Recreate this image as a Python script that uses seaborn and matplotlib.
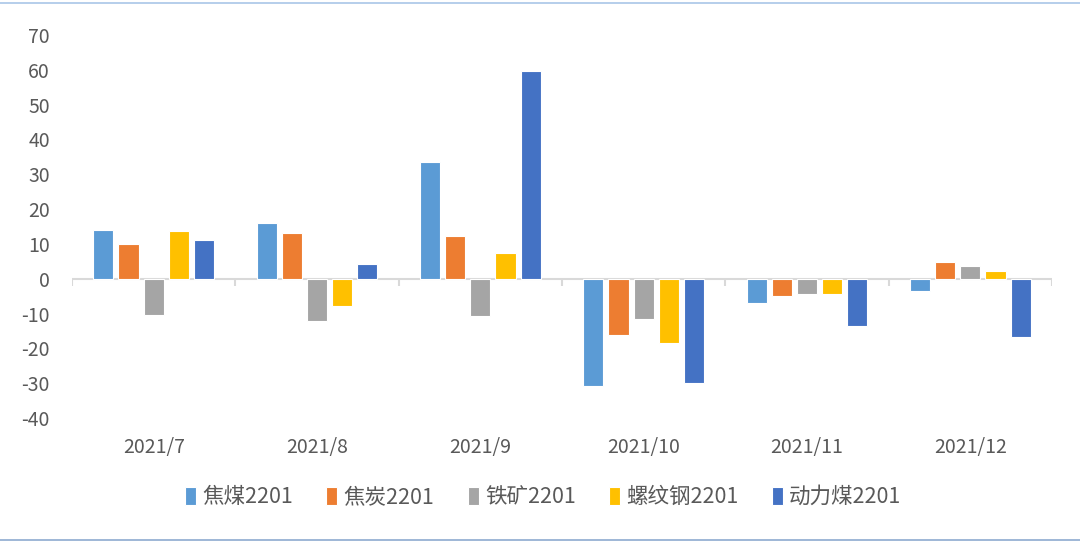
import matplotlib
matplotlib.use("Agg")
import matplotlib.pyplot as plt
from matplotlib.lines import Line2D
import seaborn as sns
import pandas as pd

months = ["2021/7", "2021/8", "2021/9", "2021/10", "2021/11", "2021/12"]
series_names = ["焦煤2201", "焦炭2201", "铁矿2201", "螺纹钢2201", "动力煤2201"]
jiaomei = [14.1, 16.1, 33.4, -30.8, -7.1, -3.4]
jiaotan = [10.0, 13.0, 12.2, -16.1, -5.1, 4.7]
tiekuang = [-10.3, -12.0, -10.6, -11.5, -4.5, 3.7]
luowengang = [13.8, -7.8, 7.4, -18.4, -4.5, 2.2]
donglimei = [11.2, 4.3, 59.6, -29.9, -13.7, -16.8]
colors = ["#5B9BD5", "#ED7D31", "#A5A5A5", "#FFC000", "#4472C4"]

rows = []
for name, vals in zip(series_names, [jiaomei, jiaotan, tiekuang, luowengang, donglimei]):
    for m, v in zip(months, vals):
        rows.append({"month": m, "series": name, "value": v})
df = pd.DataFrame(rows)

sns.set_theme(style="white")
plt.rcParams["font.family"] = ["Noto Sans CJK SC", "DejaVu Sans"]
plt.rcParams["axes.unicode_minus"] = False

fig = plt.figure(figsize=(10.8, 5.44), dpi=100)
ax = fig.add_axes([0.0667, 0.2316, 0.9074, 0.7041])

sns.barplot(data=df, x="month", y="value", hue="series", order=months,
            hue_order=series_names, palette=colors, saturation=1,
            width=0.77, gap=0.2, edgecolor="white", linewidth=0.8,
            ax=ax, legend=True)

ax.set_xlim(-0.5, 5.5)
ax.set_ylim(-40, 70)
ax.set_yticks(range(-40, 71, 10))
ax.set_xlabel("")
ax.set_ylabel("")
for s in ax.spines.values():
    s.set_visible(False)
ax.tick_params(axis="y", length=0, pad=16, labelsize=14, labelcolor="#595959")
ax.tick_params(axis="x", length=0, pad=14, labelsize=14, labelcolor="#595959")
for lab in ax.get_yticklabels():
    lab.set_horizontalalignment("right")

# zero axis line with category boundary ticks
ax.axhline(0, color="#D9D9D9", lw=1.5, zorder=0.5)
bounds = [i - 0.5 for i in range(len(months) + 1)]
ax.vlines(bounds, -2.0, 0, color="#D9D9D9", lw=1.5, zorder=0.5)

leg = ax.get_legend()
handles = leg.legend_handles
leg.remove()
fig.legend(handles, series_names, loc="center", bbox_to_anchor=(0.503, 0.086),
           ncol=5, frameon=False, fontsize=15.5, handlelength=0.5,
           handleheight=0.9, handletextpad=0.3, columnspacing=1.55,
           labelcolor="#595959")

# thin frame lines at top and bottom of the image
fig.add_artist(Line2D([0, 1], [0.995, 0.995], transform=fig.transFigure,
                      color="#A9C6E8", lw=1.2))
fig.add_artist(Line2D([0, 1], [0.008, 0.008], transform=fig.transFigure,
                      color="#8EAAD0", lw=1.2))

fig.savefig("out.png", dpi=100)
